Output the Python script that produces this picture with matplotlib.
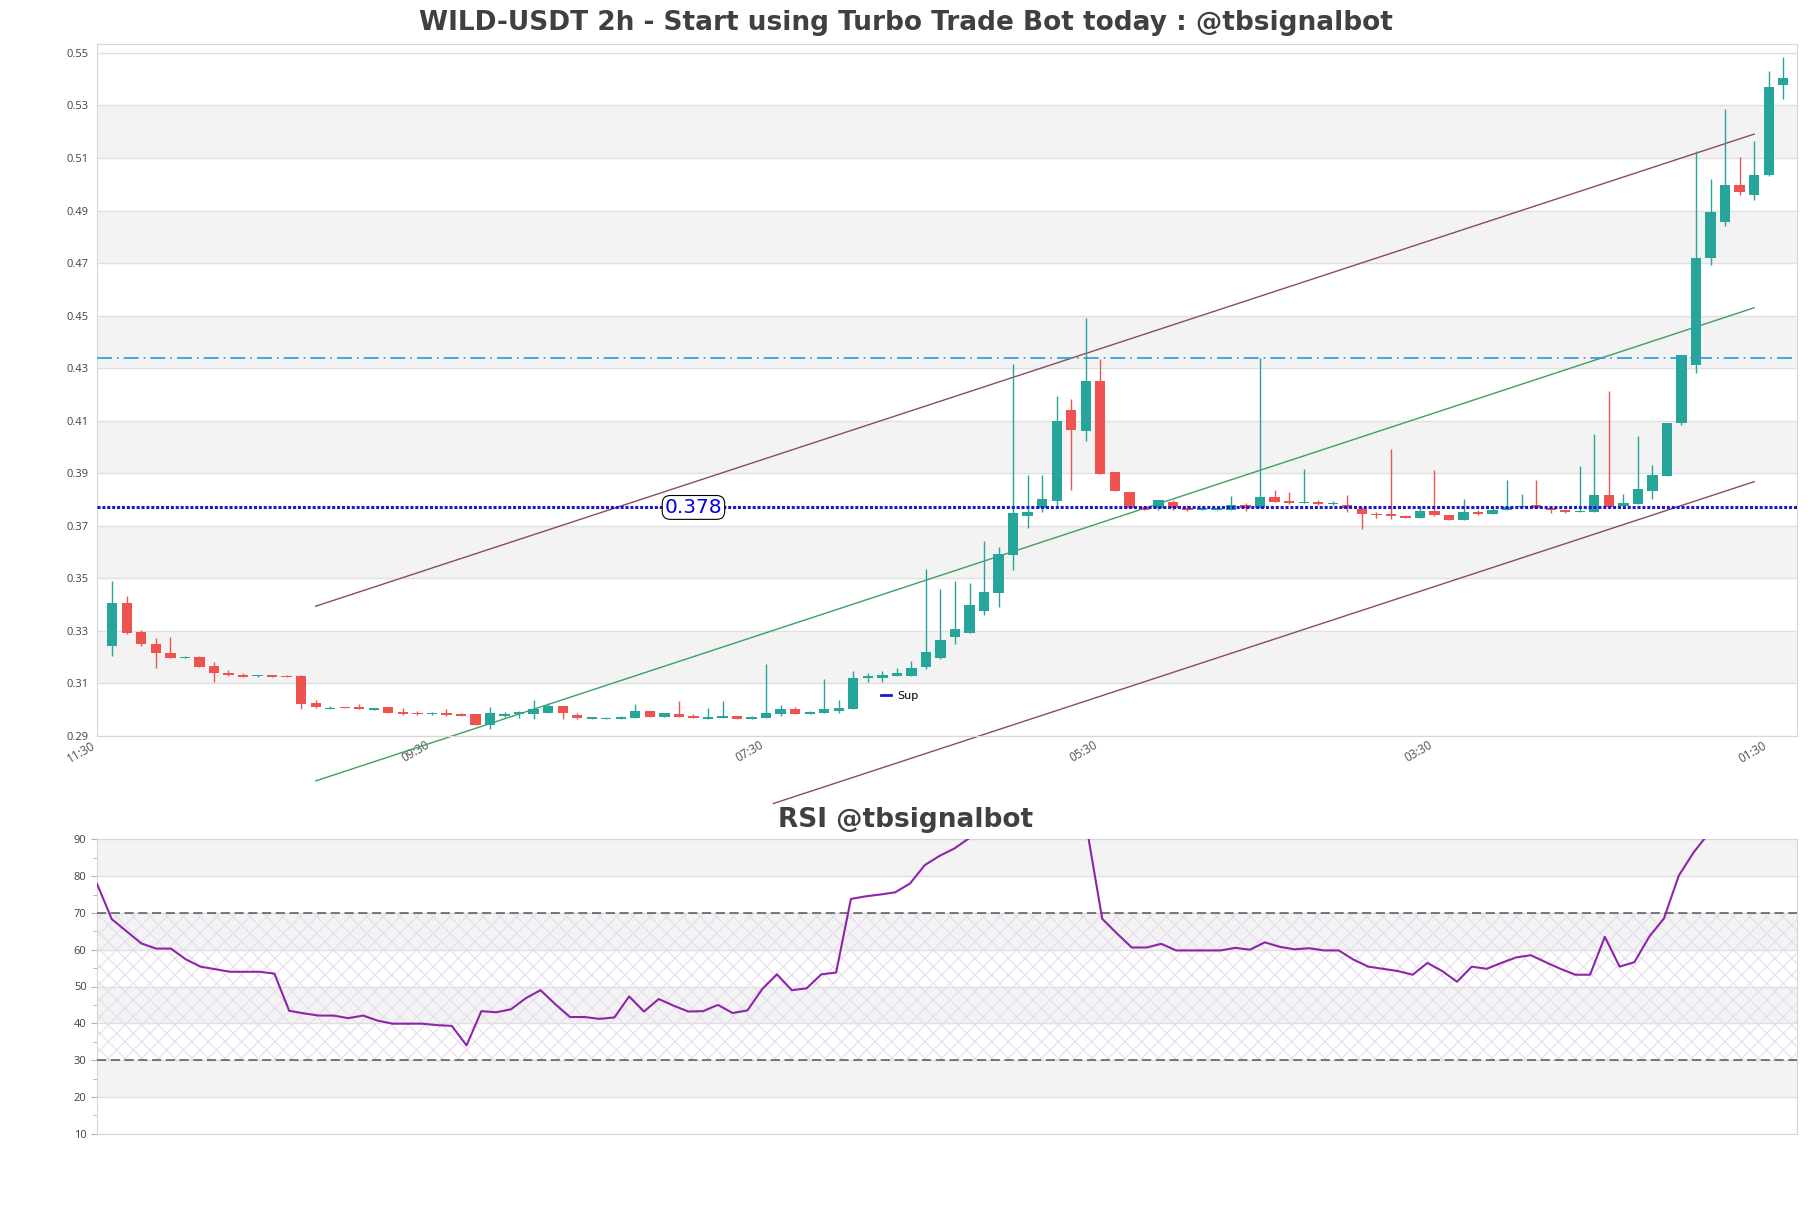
import matplotlib
matplotlib.use("Agg")
import matplotlib.pyplot as plt
from matplotlib.lines import Line2D
import numpy as np

# ---------------- data ----------------
opens = [0.3244, 0.3406, 0.3297, 0.3250, 0.3216, 0.3198, 0.3201, 0.3167, 0.3140, 0.3134,
         0.3128, 0.3132, 0.3130, 0.3129, 0.3026, 0.3004, 0.3011, 0.3011, 0.3000, 0.3011,
         0.2993, 0.2989, 0.2982, 0.2987, 0.2985, 0.2982, 0.2940, 0.2977, 0.2983, 0.2985,
         0.2989, 0.3015, 0.2980, 0.2966, 0.2966, 0.2966, 0.2970, 0.2996, 0.2974, 0.2984,
         0.2978, 0.2966, 0.2970, 0.2976, 0.2966, 0.2970, 0.2985, 0.3002, 0.2985, 0.2989,
         0.2996, 0.3004, 0.3120, 0.3120, 0.3130, 0.3130, 0.3163, 0.3197, 0.3278, 0.3293,
         0.3377, 0.3445, 0.3590, 0.3738, 0.3767, 0.3795, 0.4140, 0.4061, 0.4250, 0.3903,
         0.3827, 0.3770, 0.3766, 0.3789, 0.3769, 0.3761, 0.3761, 0.3761, 0.3779, 0.3769,
         0.3808, 0.3795, 0.3786, 0.3789, 0.3784, 0.3781, 0.3764, 0.3746, 0.3745, 0.3738,
         0.3731, 0.3755, 0.3743, 0.3723, 0.3753, 0.3746, 0.3759, 0.3770, 0.3779, 0.3766,
         0.3760, 0.3751, 0.3753, 0.3817, 0.3774, 0.3783, 0.3833, 0.3890, 0.4091, 0.4312,
         0.4718, 0.4856, 0.4998, 0.4959, 0.5034, 0.5377]
highs = [0.3490, 0.3433, 0.3304, 0.3273, 0.3277, 0.3203, 0.3206, 0.3182, 0.3150, 0.3139,
         0.3132, 0.3132, 0.3132, 0.3132, 0.3037, 0.3014, 0.3012, 0.3021, 0.3006, 0.3011,
         0.3007, 0.2994, 0.2991, 0.3001, 0.2986, 0.2983, 0.3011, 0.2991, 0.2997, 0.3037,
         0.3026, 0.3015, 0.2989, 0.2974, 0.2971, 0.2978, 0.3021, 0.2996, 0.2988, 0.3034,
         0.2985, 0.3007, 0.3034, 0.2976, 0.2976, 0.3174, 0.3018, 0.3009, 0.2995, 0.3117,
         0.3037, 0.3146, 0.3140, 0.3146, 0.3160, 0.3184, 0.3535, 0.3459, 0.3489, 0.3481,
         0.3641, 0.3618, 0.4315, 0.3893, 0.3893, 0.4195, 0.4182, 0.4490, 0.4334, 0.3903,
         0.3827, 0.3771, 0.3799, 0.3798, 0.3780, 0.3775, 0.3772, 0.3814, 0.3786, 0.4340,
         0.3836, 0.3830, 0.3916, 0.3798, 0.3794, 0.3817, 0.3771, 0.3753, 0.3992, 0.3740,
         0.3776, 0.3912, 0.3743, 0.3802, 0.3760, 0.3774, 0.3874, 0.3821, 0.3874, 0.3771,
         0.3762, 0.3928, 0.4049, 0.4214, 0.3821, 0.4042, 0.3931, 0.4093, 0.4349, 0.5126,
         0.5022, 0.5288, 0.5102, 0.5163, 0.5433, 0.5486]
lows = [0.3206, 0.3288, 0.3241, 0.3158, 0.3197, 0.3197, 0.3162, 0.3107, 0.3130, 0.3125,
        0.3126, 0.3125, 0.3124, 0.3001, 0.3008, 0.3004, 0.3007, 0.3001, 0.2999, 0.2989,
        0.2979, 0.2980, 0.2980, 0.2978, 0.2977, 0.2940, 0.2928, 0.2973, 0.2968, 0.2965,
        0.2989, 0.2965, 0.2965, 0.2966, 0.2965, 0.2965, 0.2970, 0.2974, 0.2974, 0.2974,
        0.2968, 0.2966, 0.2970, 0.2966, 0.2965, 0.2968, 0.2977, 0.2985, 0.2983, 0.2989,
        0.2989, 0.3004, 0.3107, 0.3105, 0.3128, 0.3130, 0.3155, 0.3193, 0.3250, 0.3293,
        0.3362, 0.3390, 0.3533, 0.3690, 0.3751, 0.3776, 0.3837, 0.4023, 0.3898, 0.3833,
        0.3766, 0.3760, 0.3761, 0.3761, 0.3758, 0.3760, 0.3760, 0.3761, 0.3756, 0.3769,
        0.3790, 0.3784, 0.3786, 0.3780, 0.3781, 0.3751, 0.3688, 0.3728, 0.3726, 0.3730,
        0.3731, 0.3736, 0.3723, 0.3723, 0.3741, 0.3746, 0.3759, 0.3769, 0.3766, 0.3748,
        0.3749, 0.3751, 0.3753, 0.3772, 0.3774, 0.3783, 0.3804, 0.3890, 0.4083, 0.4283,
        0.4693, 0.4841, 0.4960, 0.4942, 0.5031, 0.5323]
closes = [0.3406, 0.3293, 0.3252, 0.3217, 0.3198, 0.3201, 0.3164, 0.3141, 0.3132, 0.3126,
          0.3131, 0.3126, 0.3125, 0.3020, 0.3012, 0.3008, 0.3008, 0.3001, 0.3006, 0.2989,
          0.2982, 0.2984, 0.2987, 0.2980, 0.2978, 0.2940, 0.2987, 0.2985, 0.2993, 0.3003,
          0.3015, 0.2989, 0.2970, 0.2973, 0.2970, 0.2974, 0.2996, 0.2974, 0.2988, 0.2974,
          0.2970, 0.2974, 0.2978, 0.2966, 0.2973, 0.2987, 0.3002, 0.2985, 0.2993, 0.3002,
          0.3008, 0.3121, 0.3128, 0.3134, 0.3138, 0.3158, 0.3221, 0.3266, 0.3307, 0.3399,
          0.3447, 0.3591, 0.3747, 0.3751, 0.3802, 0.4098, 0.4064, 0.4250, 0.3898, 0.3833,
          0.3766, 0.3761, 0.3797, 0.3766, 0.3761, 0.3766, 0.3769, 0.3779, 0.3766, 0.3808,
          0.3792, 0.3785, 0.3790, 0.3784, 0.3788, 0.3766, 0.3746, 0.3742, 0.3738, 0.3731,
          0.3756, 0.3742, 0.3723, 0.3751, 0.3746, 0.3761, 0.3772, 0.3774, 0.3766, 0.3759,
          0.3751, 0.3755, 0.3817, 0.3772, 0.3786, 0.3840, 0.3893, 0.4093, 0.4349, 0.4718,
          0.4893, 0.4998, 0.4970, 0.5034, 0.5371, 0.5405]

rsi = [77.9, 68.3, 65.0, 61.7, 60.3, 60.3, 57.4, 55.4, 54.7, 54.0,
       54.0, 54.0, 53.5, 43.4, 42.7, 42.1, 42.1, 41.4, 42.1, 40.7,
       39.9, 39.9, 39.9, 39.5, 39.3, 34.0, 43.3, 43.0, 43.8, 46.8,
       49.0, 45.2, 41.7, 41.7, 41.2, 41.6, 47.3, 43.2, 46.6, 44.8,
       43.2, 43.3, 45.0, 42.8, 43.5, 49.3, 53.3, 49.0, 49.5, 53.3,
       53.8, 73.8, 74.5, 75.0, 75.6, 78.0, 83.0, 85.5, 87.5, 90.3,
       93.0, 95.0, 97.0, 97.2, 97.4, 97.8, 96.5, 92.0, 68.4, 64.4,
       60.6, 60.6, 61.6, 59.8, 59.8, 59.8, 59.8, 60.5, 60.0, 62.0,
       60.8, 60.1, 60.4, 59.8, 59.8, 57.3, 55.4, 54.8, 54.2, 53.2,
       56.4, 54.2, 51.3, 55.4, 54.8, 56.4, 57.9, 58.5, 56.6, 54.8,
       53.2, 53.2, 63.5, 55.4, 56.6, 63.5, 68.5, 80.1, 86.4, 91.5,
       93.0, 94.0, 93.0, 94.0, 96.0, 96.0]

time_labels = ['11:30', '09:30', '07:30', '05:30', '03:30', '01:30']
time_label_pos = [-1, 22, 45, 68, 91, 114]

sup_level = 0.377
sup_label = '0.378'
res_level = 0.434

channel_x = [14, 113]
channel_upper = [0.3394, 0.5191]
channel_mid = [0.2729, 0.4530]
channel_lower_x = [45.5, 113]
channel_lower = [0.2643, 0.3868]

price_ticks = [0.29, 0.31, 0.33, 0.35, 0.37, 0.39, 0.41, 0.43, 0.45, 0.47, 0.49, 0.51, 0.53, 0.55]
rsi_ticks = [10, 20, 30, 40, 50, 60, 70, 80, 90]

title_main = 'WILD-USDT 2h - Start using Turbo Trade Bot today : @tbsignalbot'
title_rsi = 'RSI @tbsignalbot'

# ---------------- style ----------------
UP = '#26a69a'
DOWN = '#ef5350'
BAND = '#f3f3f3'
GRID = '#e0e0e0'
SPINE = '#d6d6d6'
TXT = '#404040'
plt.rcParams['font.family'] = ['Open Sans', 'DejaVu Sans']

fig = plt.figure(figsize=(18.11, 12.08), dpi=100)
W, H = 1811, 1208
ax = fig.add_axes([97 / W, (H - 736) / H, 1700 / W, 692 / H])
ax2 = fig.add_axes([97 / W, (H - 1133.7) / H, 1700 / W, 294.4 / H])

# ---------------- main panel ----------------
n = len(opens)
x = np.arange(n)
o = np.array(opens); h = np.array(highs); l = np.array(lows); c = np.array(closes)
up = c >= o
cols = np.where(up, UP, DOWN)
ax.vlines(x, l, h, colors=cols, linewidth=1.0, zorder=3)
body_bottom = np.minimum(o, c)
body_h = np.maximum(np.abs(c - o), 0.0004)
ax.bar(x, body_h, bottom=body_bottom, width=0.71, color=cols, linewidth=0, zorder=4)

ax.set_ylim(0.29, 0.5534)
ax.set_xlim(-1.05, 115.95)
for i in range(1, len(price_ticks) - 1, 2):
    ax.axhspan(price_ticks[i], price_ticks[i + 1], color=BAND, zorder=0, linewidth=0)
ax.set_yticks(price_ticks)
ax.set_yticklabels([f'{v:.2f}' for v in price_ticks])
ax.yaxis.grid(True, color=GRID, linewidth=1.0, zorder=1)
ax.set_axisbelow(True)
ax.tick_params(axis='y', length=0, labelsize=8, labelcolor=TXT, pad=6)
ax.set_xticks(time_label_pos)
ax.set_xticklabels(time_labels, rotation=30, ha='right', fontsize=8.5, color='#505050')
ax.tick_params(axis='x', length=0, pad=2)
for s in ax.spines.values():
    s.set_color(SPINE)

ax.axhline(sup_level, color='#1a1acc', linestyle=(0, (1, 0.6)), linewidth=2.2, zorder=5)
ax.axhline(res_level, color='#2a9ad8', linestyle=(0, (9, 3, 1, 3)), linewidth=1.2, zorder=5)
ax.text(40, sup_level, sup_label, color='#0000ee', fontsize=14.5, ha='center', va='center',
        family='DejaVu Sans', zorder=7,
        bbox=dict(boxstyle='round,pad=0.12,rounding_size=0.4', fc='white', ec='black', lw=0.8))

ax.plot(channel_x, channel_upper, color='#8c4a62', linewidth=1.0, clip_on=False, zorder=2)
ax.plot(channel_x, channel_mid, color='#3f9f5f', linewidth=1.0, clip_on=False, zorder=2)
ax.plot(channel_lower_x, channel_lower, color='#8c4a62', linewidth=1.0, clip_on=False, zorder=2)

ax.legend(handles=[Line2D([0], [0], color='#1a1acc', lw=2)], labels=['Sup'],
          loc='center left', bbox_to_anchor=(0.455, 0.058), frameon=False,
          handlelength=0.9, handletextpad=0.6, prop={'family': 'DejaVu Sans', 'size': 8})

fig.text(0.5, 1 - 23 / H, title_main, ha='center', va='center', fontsize=19,
         fontweight='bold', color=TXT, family='DejaVu Sans')

# ---------------- RSI panel ----------------
xr = np.arange(len(rsi))
ax2.set_xlim(0, len(rsi) - 1)
ax2.set_ylim(10, 90)
for i in range(1, len(rsi_ticks) - 1, 2):
    ax2.axhspan(rsi_ticks[i], rsi_ticks[i + 1], color=BAND, zorder=0, linewidth=0)
plt.rcParams['hatch.linewidth'] = 0.8
ax2.fill_between([0, len(rsi) - 1], 30, 70, facecolor='none', hatch='xx',
                 edgecolor='#e6dcee', linewidth=0, zorder=1)
ax2.set_yticks(rsi_ticks)
ax2.set_yticks(np.arange(15, 90, 10), minor=True)
ax2.yaxis.grid(True, color=GRID, linewidth=1.0)
ax2.set_axisbelow(True)
ax2.tick_params(axis='y', which='major', length=4, color='#b0b0b0', labelsize=8, labelcolor=TXT)
ax2.tick_params(axis='y', which='minor', length=3, color='#b0b0b0')
ax2.set_xticks([])
for s in ax2.spines.values():
    s.set_color(SPINE)
ax2.axhline(70, color='#555555', linestyle=(0, (6, 3)), linewidth=1.1, zorder=3)
ax2.axhline(30, color='#555555', linestyle=(0, (6, 3)), linewidth=1.1, zorder=3)
ax2.plot(xr, rsi, color='#8e24aa', linewidth=1.5, zorder=4)
fig.text(0.5, 1 - 820 / H, title_rsi, ha='center', va='center', fontsize=19,
         fontweight='bold', color=TXT, family='DejaVu Sans')

fig.savefig('out.png', dpi=100)
